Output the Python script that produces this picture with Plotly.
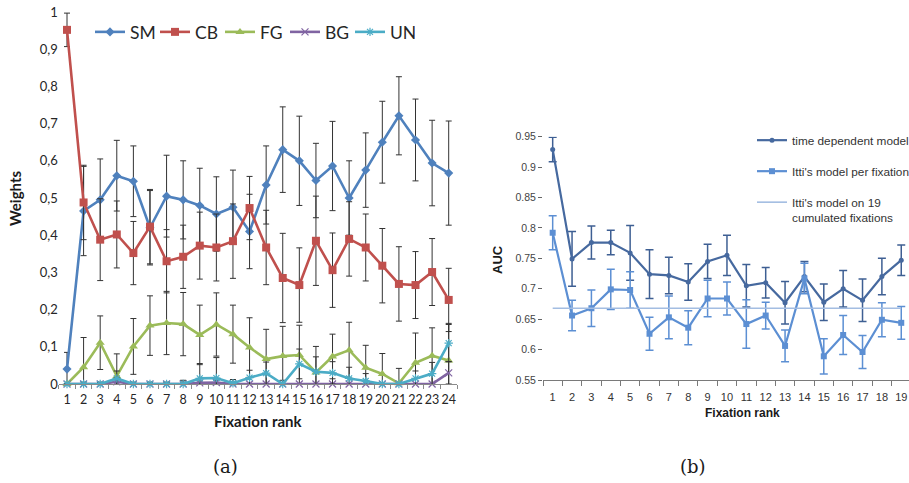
import plotly.graph_objects as go

# ---- panel (a): weights of the five feature channels per fixation rank ----
ranks_a = list(range(1, 25))
sm = [0.04, 0.465, 0.495, 0.56, 0.545, 0.42, 0.505, 0.495, 0.48, 0.457, 0.475, 0.41,
      0.535, 0.63, 0.6, 0.547, 0.586, 0.5, 0.575, 0.65, 0.721, 0.656, 0.594, 0.567]
sm_err = [0.045, 0.12, 0.11, 0.095, 0.095, 0.1, 0.11, 0.105, 0.1, 0.1, 0.1, 0.1,
          0.105, 0.115, 0.12, 0.1, 0.12, 0.1, 0.1, 0.11, 0.105, 0.11, 0.115, 0.14]
cb = [0.952, 0.488, 0.388, 0.402, 0.352, 0.423, 0.33, 0.342, 0.372, 0.367, 0.384, 0.473,
      0.367, 0.285, 0.266, 0.385, 0.306, 0.39, 0.367, 0.318, 0.269, 0.266, 0.301, 0.226]
cb_err = [0.045, 0.1, 0.11, 0.09, 0.085, 0.1, 0.085, 0.085, 0.09, 0.09, 0.1, 0.085,
          0.1, 0.12, 0.1, 0.12, 0.1, 0.1, 0.09, 0.1, 0.1, 0.09, 0.09, 0.085]
fg = [0.0, 0.045, 0.111, 0.021, 0.101, 0.157, 0.164, 0.161, 0.132, 0.16, 0.134, 0.098,
      0.067, 0.075, 0.078, 0.031, 0.074, 0.091, 0.044, 0.027, 0.002, 0.057, 0.076, 0.063]
fg_err = [0.0, 0.08, 0.072, 0.06, 0.075, 0.08, 0.085, 0.085, 0.08, 0.085, 0.078, 0.08,
          0.08, 0.08, 0.08, 0.07, 0.06, 0.075, 0.06, 0.055, 0.04, 0.08, 0.075, 0.1]
bg = [0.0, 0.0, 0.0, 0.006, 0.0, 0.0, 0.0, 0.0, 0.003, 0.004, 0.0, 0.0,
      0.0, 0.0, 0.0, 0.0, 0.0, 0.0, 0.0, 0.0, 0.0, 0.0, 0.0, 0.03]
bg_err = [0.0, 0.0, 0.003, 0.01, 0.0, 0.0, 0.003, 0.005, 0.005, 0.006, 0.003, 0.0,
          0.0, 0.0, 0.0, 0.0, 0.0, 0.0, 0.0, 0.0, 0.0, 0.0, 0.0, 0.03]
un = [0.0, 0.0, 0.0, 0.015, 0.0, 0.0, 0.0, 0.0, 0.015, 0.016, 0.002, 0.017,
      0.029, 0.0, 0.054, 0.033, 0.03, 0.015, 0.008, 0.0, 0.0, 0.015, 0.028, 0.11]
un_err = [0.0, 0.005, 0.005, 0.02, 0.005, 0.005, 0.005, 0.01, 0.04, 0.055, 0.01, 0.02,
          0.03, 0.01, 0.04, 0.04, 0.03, 0.03, 0.02, 0.0, 0.0, 0.02, 0.03, 0.05]
yticks_a = [0, 0.1, 0.2, 0.3, 0.4, 0.5, 0.6, 0.7, 0.8, 0.9, 1]
yticktext_a = ["0", "0,1", "0,2", "0,3", "0,4", "0,5", "0,6", "0,7", "0,8", "0,9", "1"]

# ---- panel (b): AUC per fixation rank ----
ranks_b = list(range(1, 20))
time_dep = [0.929, 0.749, 0.776, 0.776, 0.759, 0.724, 0.722, 0.711, 0.745, 0.755,
            0.705, 0.71, 0.677, 0.72, 0.678, 0.70, 0.681, 0.72, 0.747]
time_dep_err = [0.02, 0.045, 0.027, 0.02, 0.045, 0.04, 0.03, 0.03, 0.028, 0.033,
                0.035, 0.025, 0.035, 0.025, 0.03, 0.03, 0.035, 0.03, 0.025]
itti_fix = [0.792, 0.656, 0.668, 0.699, 0.698, 0.626, 0.653, 0.636, 0.684, 0.684,
            0.642, 0.656, 0.606, 0.717, 0.589, 0.624, 0.596, 0.649, 0.644]
itti_fix_err = [0.028, 0.025, 0.03, 0.033, 0.03, 0.027, 0.035, 0.028, 0.03, 0.027,
                0.04, 0.022, 0.026, 0.025, 0.029, 0.032, 0.027, 0.028, 0.027]
itti_cum19 = [0.668] * len(ranks_b)
yticks_b = [0.55, 0.6, 0.65, 0.7, 0.75, 0.8, 0.85, 0.9, 0.95]
yticktext_b = ["0.55", "0.6", "0.65", "0.7", "0.75", "0.8", "0.85", "0.9", "0.95"]

W, H = 909, 483
FONT_A = "Lato, Open Sans, sans-serif"
FONT_B = "Liberation Sans, Arial, sans-serif"
ERR_A = "#333333"

fig = go.Figure()

series_a = [
    ("SM", sm, sm_err, "#4F81BD", dict(symbol="diamond", size=7)),
    ("CB", cb, cb_err, "#C0504D", dict(symbol="square", size=8)),
    ("FG", fg, fg_err, "#9BBB59", dict(symbol="triangle-up", size=8)),
    ("BG", bg, bg_err, "#8064A2", dict(symbol="x-thin-open", size=7)),
    ("UN", un, un_err, "#4BACC6", dict(symbol="asterisk-open", size=7)),
]
for name, vals, errs, col, mk in series_a:
    marker = dict(color=col, **mk)
    if mk["symbol"].endswith("open"):
        marker["line"] = dict(color=col, width=1.2)
    fig.add_trace(go.Scatter(
        x=ranks_a, y=vals, name=name, mode="lines+markers",
        line=dict(color=col, width=2.6), marker=marker,
        error_y=dict(type="data", array=errs, visible=True,
                     color=ERR_A, thickness=1, width=3),
        xaxis="x", yaxis="y", legend="legend", cliponaxis=False,
    ))

# panel (b) series
fig.add_trace(go.Scatter(
    x=ranks_b, y=time_dep, name="time dependent model", mode="lines+markers",
    line=dict(color="#46699F", width=2.2), marker=dict(symbol="circle", size=5, color="#46699F"),
    error_y=dict(type="data", array=time_dep_err, visible=True,
                 color="#3E5F93", thickness=1.5, width=4),
    xaxis="x2", yaxis="y2", legend="legend2", legendgroup="g1",
))
fig.add_trace(go.Scatter(
    x=ranks_b, y=itti_fix, name="Itti's model per fixation", mode="lines+markers",
    line=dict(color="#5C8FD3", width=2.2), marker=dict(symbol="square", size=6, color="#5C8FD3"),
    error_y=dict(type="data", array=itti_fix_err, visible=True,
                 color="#5C8FD3", thickness=1.5, width=4),
    xaxis="x2", yaxis="y2", legend="legend2", legendgroup="g2",
))
fig.add_trace(go.Scatter(
    x=ranks_b, y=itti_cum19, name="Itti's model on 19<br>cumulated fixations", mode="lines",
    line=dict(color="#A3BDE2", width=1.6),
    xaxis="x2", yaxis="y2", legend="legend2", legendgroup="g3",
))

def px_x(p):
    return p / W

def px_y(p):
    return (H - p) / H

def label(text, x, y, size, family, angle=0):
    return dict(text=text, x=px_x(x), y=px_y(y), xref="paper", yref="paper",
                xanchor="center", yanchor="middle", textangle=angle, showarrow=False,
                font=dict(size=size, family=family, color="#1a1a1a"))

fig.update_layout(
    width=W, height=H,
    margin=dict(l=0, r=0, t=0, b=0, autoexpand=False),
    paper_bgcolor="white", plot_bgcolor="white",
    font=dict(family=FONT_A, color="#262626"),
    xaxis=dict(
        domain=[px_x(58.7), px_x(457)], range=[0.5, 24.5],
        tickvals=ranks_a, ticktext=[str(r) for r in ranks_a],
        ticks="", showgrid=False, zeroline=False, ticklabelstandoff=4,
        showline=True, linecolor="#8a8a8a", linewidth=1,
        tickfont=dict(size=12.5, family=FONT_A, color="#262626"),
        minor=dict(tickvals=[r + 0.5 for r in range(0, 25)], ticks="outside",
                   ticklen=4, tickcolor="#8a8a8a", showgrid=False),
        anchor="y",
    ),
    yaxis=dict(
        domain=[px_y(384), px_y(12)], range=[0, 1],
        tickvals=yticks_a, ticktext=yticktext_a,
        ticks="", showgrid=False, zeroline=False, showline=False,
        tickfont=dict(size=13, family=FONT_A, color="#262626"),
        anchor="x",
    ),
    xaxis2=dict(
        domain=[px_x(543), 1.0], range=[0.5, 19.4],
        tickvals=ranks_b, ticktext=[str(r) for r in ranks_b],
        ticks="", showgrid=False, zeroline=False, ticklabelstandoff=7,
        ticklabeloverflow="allow",
        showline=True, linecolor="#7a7a7a", linewidth=1.2,
        tickfont=dict(size=11, family=FONT_B, color="#333333"),
        minor=dict(tickvals=[r + 0.5 for r in range(0, 20)], ticks="outside",
                   ticklen=5, tickcolor="#7a7a7a", showgrid=False),
        anchor="y2",
    ),
    yaxis2=dict(
        domain=[px_y(380), px_y(136.7)], range=[0.55, 0.95],
        tickvals=yticks_b, ticktext=yticktext_b,
        ticks="outside", ticklen=4, tickcolor="#666666",
        showgrid=False, zeroline=False, showline=False,
        tickfont=dict(size=10.5, family=FONT_B, color="#444444"),
        anchor="x2",
    ),
    legend=dict(
        orientation="h", x=px_x(90), xanchor="left", y=px_y(32), yanchor="middle",
        font=dict(size=17.5, family=FONT_A, color="#262626"),
        entrywidth=20, entrywidthmode="pixels",
        bgcolor="rgba(0,0,0,0)",
    ),
    legend2=dict(
        orientation="v", x=px_x(752), xanchor="left", y=px_y(126), yanchor="top",
        font=dict(size=11.8, family=FONT_B, color="#333333"),
        tracegroupgap=12, valign="top",
        bgcolor="rgba(0,0,0,0)",
    ),
    showlegend=True,
    annotations=[
        label("<b>Weights</b>", 15, 198, 15, FONT_A, -90),
        label("<b>Fixation rank</b>", 258, 421, 15, FONT_A),
        label("<b>AUC</b>", 497, 260, 13, FONT_B, -90),
        label("<b>Fixation rank</b>", 742, 413, 12, FONT_B),
        label("(a)", 225, 466, 18, "DejaVu Serif, serif"),
        label("(b)", 693, 466, 18, "DejaVu Serif, serif"),
    ],
)

fig.write_html("out.html")
